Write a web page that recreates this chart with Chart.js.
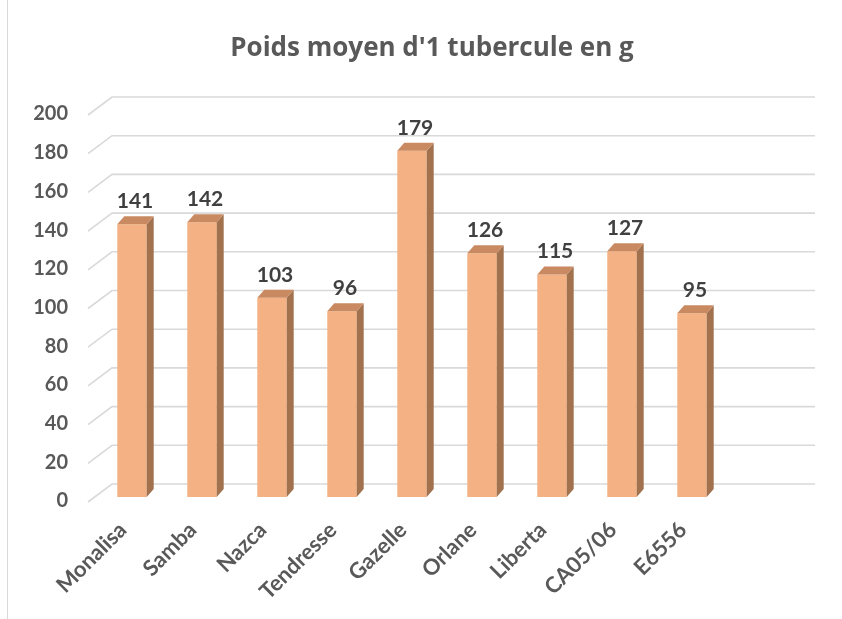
<!DOCTYPE html>
<html>
<head>
<meta charset="utf-8">
<script src="https://cdn.jsdelivr.net/npm/chart.js@4/dist/chart.umd.min.js"></script>
<style>
  html, body { margin: 0; padding: 0; background: #ffffff; }
  #wrap { position: relative; width: 842px; height: 619px; }
</style>
</head>
<body>
<div id="wrap"><canvas id="c" width="842" height="619"></canvas></div>
<script>
const categories = ['Monalisa', 'Samba', 'Nazca', 'Tendresse', 'Gazelle', 'Orlane', 'Liberta', 'CA05/06', 'E6556'];
const weights = [141, 142, 103, 96, 179, 126, 115, 127, 95];
const yTicks = [0, 20, 40, 60, 80, 100, 120, 140, 160, 180, 200];
const chartTitle = "Poids moyen d'1 tubercule en g";

const FONT = 'Lato, "Open Sans", sans-serif';
const TITLE_FONT = '"Open Sans", Lato, sans-serif';
const DEPTH_X = 7, DEPTH_Y = 8;

const threeD = {
  id: 'threeD',
  beforeDraw(chart) {
    const ctx = chart.ctx;
    ctx.save();
    ctx.strokeStyle = '#d9d9d9';
    ctx.lineWidth = 1;
    ctx.beginPath();
    ctx.moveTo(7.5, 0);
    ctx.lineTo(7.5, 619);
    ctx.stroke();
    ctx.fillStyle = '#595959';
    ctx.font = 'bold 26px ' + TITLE_FONT;
    ctx.textAlign = 'center';
    ctx.textBaseline = 'alphabetic';
    ctx.fillText(chartTitle, 432, 56);
    ctx.restore();
  },
  beforeDatasetsDraw(chart) {
    const ctx = chart.ctx;
    const ys = chart.scales.y;
    const left = chart.chartArea.left;
    ctx.save();
    ctx.strokeStyle = '#d9d9d9';
    ctx.lineWidth = 1.6;
    yTicks.forEach(v => {
      const yf = ys.getPixelForValue(v);
      ctx.beginPath();
      ctx.moveTo(left - 9, yf + 5);
      ctx.lineTo(left + 15, yf - 13);
      ctx.lineTo(815, yf - 13);
      ctx.stroke();
    });
    ctx.restore();
  },
  afterDatasetsDraw(chart) {
    const ctx = chart.ctx;
    const meta = chart.getDatasetMeta(0);
    ctx.save();
    meta.data.forEach((bar, i) => {
      const x0 = bar.x - bar.width / 2;
      const x1 = bar.x + bar.width / 2;
      const yt = bar.y;
      const yb = bar.base;
      ctx.fillStyle = '#A2714E';
      ctx.beginPath();
      ctx.moveTo(x1, yb);
      ctx.lineTo(x1, yt);
      ctx.lineTo(x1 + DEPTH_X, yt - DEPTH_Y);
      ctx.lineTo(x1 + DEPTH_X, yb - DEPTH_Y);
      ctx.closePath();
      ctx.fill();
      ctx.fillStyle = '#C98A62';
      ctx.beginPath();
      ctx.moveTo(x0, yt);
      ctx.lineTo(x1, yt);
      ctx.lineTo(x1 + DEPTH_X, yt - DEPTH_Y);
      ctx.lineTo(x0 + DEPTH_X, yt - DEPTH_Y);
      ctx.closePath();
      ctx.fill();
      ctx.fillStyle = '#404040';
      ctx.font = 'bold 21px ' + FONT;
      ctx.textAlign = 'center';
      ctx.textBaseline = 'alphabetic';
      ctx.fillText(String(weights[i]), bar.x + 3, yt - 16);
    });
    ctx.restore();
  }
};

new Chart(document.getElementById('c'), {
  type: 'bar',
  data: {
    labels: categories,
    datasets: [{
      data: weights,
      backgroundColor: '#F4B183',
      borderWidth: 0,
      categoryPercentage: 1.0,
      barPercentage: 0.42
    }]
  },
  options: {
    responsive: false,
    animation: false,
    devicePixelRatio: 1,
    layout: { padding: { left: 0, right: 115, top: 110, bottom: 0 } },
    plugins: {
      legend: { display: false },
      tooltip: { enabled: false },
      title: { display: false }
    },
    scales: {
      x: {
        grid: { display: false, drawTicks: false },
        border: { display: false },
        afterFit(scale) { scale.height = 122; },
        ticks: {
          color: '#595959',
          font: { family: FONT, size: 22, weight: 'bold' },
          minRotation: 45,
          maxRotation: 45,
          autoSkip: false,
          padding: 20,
          labelOffset: -9
        }
      },
      y: {
        min: 0,
        max: 200,
        afterFit(scale) { scale.width = 97; },
        afterBuildTicks(scale) { scale.ticks = yTicks.map(v => ({ value: v })); },
        grid: { display: false, drawTicks: false },
        border: { display: false },
        ticks: {
          color: '#595959',
          font: { family: FONT, size: 20, weight: 'bold' },
          padding: 29,
          labelOffset: 4
        }
      }
    }
  },
  plugins: [threeD]
});
</script>
</body>
</html>
